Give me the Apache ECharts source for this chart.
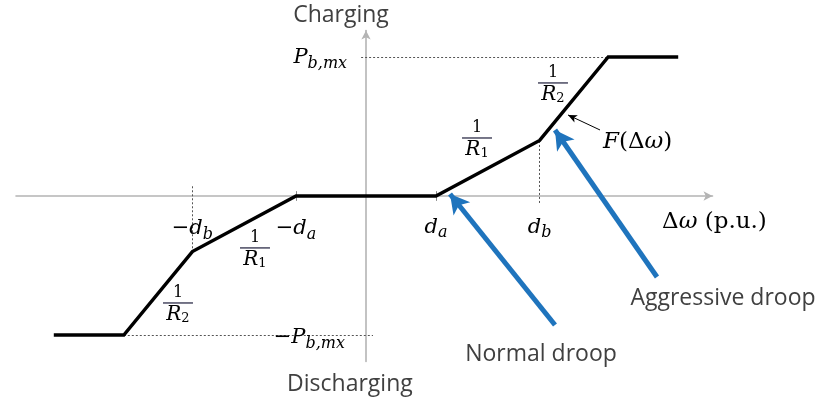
<!DOCTYPE html>
<html>
<head>
<meta charset="utf-8">
<script src="https://cdn.jsdelivr.net/npm/echarts@6/dist/echarts.min.js"></script>
<style>
  html, body { margin: 0; padding: 0; background: #ffffff; }
  #chart { width: 833px; height: 399px; }
</style>
</head>
<body>
<div id="chart"></div>
<script>
// Piecewise-linear battery droop characteristic F(Δω)
// Frequency deviation at each breakpoint, in units of d_a
const deltaOmega = [-4.46, -3.46, -2.48, -1, 1, 2.48, 3.46, 4.46];
// Battery power at each breakpoint, in units of P_b,mx
const batteryPower = [-1, -1, -0.4, 0, 0, 0.4, 1, 1];

// Axis mark labels (rich-text markup)
const xTickLabels = ['{m|−d}{s|b}', '{m|−d}{s|a}', '{m|d}{s|a}', '{m|d}{s|b}'];
const yTickLabels = ['{m|P}{s|b,mx}', '{m|−P}{s|b,mx}'];
const slopeLabels = ['1/R1', '1/R2'];
const quadrantTitles = ['Charging', 'Discharging'];
const droopNames = ['Normal droop', 'Aggressive droop'];

const dA = deltaOmega[4], dB = deltaOmega[5], dSat = deltaOmega[6];
const pKnee = batteryPower[5], pMax = batteryPower[6];

const MATH = '#1c1c3a';
const BLUE = '#1f74bd';
const AXIS = '#b4b4b4';
const MATH_FONT = 'DejaVu Serif';

const chart = echarts.init(document.getElementById('chart'), null, { renderer: 'canvas' });

const curve = deltaOmega.map((x, i) => [x, batteryPower[i]]);

// one markLine segment; optional arrowhead at the end point
function seg(a, b, lineStyle, arrow) {
  const from = { coord: a, symbol: 'none' };
  const to = { coord: b, symbol: arrow ? 'arrow' : 'none' };
  if (arrow) to.symbolSize = arrow;
  if (lineStyle) from.lineStyle = lineStyle;
  return [from, to];
}

const dotted = { type: [2, 2], color: '#555', width: 1 };
const tick = { type: 'solid', color: '#888', width: 1 };
const blueArrow = { type: 'solid', color: BLUE, width: 5 };
const pointer = { type: 'solid', color: '#000', width: 1 };

chart.setOption({
  animation: false,
  backgroundColor: '#ffffff',
  grid: { left: 16, top: 30.6, width: 696.5, height: 330.8, containLabel: false },
  xAxis: {
    type: 'value', min: -5, max: 4.95,
    splitLine: { show: false }, axisTick: { show: false }, axisLabel: { show: false },
    axisLine: { onZero: true, symbol: ['none', 'arrow'], symbolSize: [7, 9],
      lineStyle: { color: AXIS, width: 1.6 } }
  },
  yAxis: {
    type: 'value', min: -1.19, max: 1.19,
    splitLine: { show: false }, axisTick: { show: false }, axisLabel: { show: false },
    axisLine: { onZero: true, symbol: ['none', 'arrow'], symbolSize: [7, 9],
      lineStyle: { color: AXIS, width: 1.6 } }
  },
  series: [
    {
      // guide lines and tick marks
      type: 'line', data: [], silent: true,
      markLine: {
        silent: true, symbol: 'none', label: { show: false },
        lineStyle: dotted,
        data: [
          seg([dB, -0.05], [dB, pKnee]),
          seg([-dB, 0.07], [-dB, -pKnee]),
          seg([-0.07, pMax], [dSat, pMax]),
          seg([-dSat, -pMax], [0.1, -pMax]),
          seg([dA, -0.035], [dA, 0.035], tick),
          seg([-dA, -0.035], [-dA, 0.035], tick)
        ]
      }
    },
    {
      name: 'F(Δω)',
      type: 'line', data: curve, symbol: 'none', z: 5,
      lineStyle: { color: '#000000', width: 3.4, join: 'miter' }
    },
    {
      // callout arrows
      type: 'line', data: [], silent: true, z: 6,
      markLine: {
        silent: true, symbol: 'none', label: { show: false },
        data: [
          seg([2.7, -0.928], [1.2, 0.014], blueArrow, [16, 19]),
          seg([4.157, -0.583], [2.7, 0.475], blueArrow, [16, 19]),
          seg([3.343, 0.475], [2.886, 0.583], pointer, [6, 9])
        ]
      }
    }
  ]
});

const rich = {
  m: { fontFamily: MATH_FONT, fontStyle: 'italic', fontSize: 21, color: MATH },
  s: { fontFamily: MATH_FONT, fontStyle: 'italic', fontSize: 16, color: MATH, padding: [12, 0, 0, 0] },
  M: { fontFamily: MATH_FONT, fontStyle: 'italic', fontSize: 23, color: MATH },
  U: { fontFamily: MATH_FONT, fontSize: 23, color: MATH },
  n: { fontFamily: MATH_FONT, fontSize: 16, color: MATH, lineHeight: 15 },
  bar: { width: 30, height: 1.2, backgroundColor: MATH, lineHeight: 5 },
  d: { fontFamily: MATH_FONT, fontStyle: 'italic', fontSize: 20, color: MATH, lineHeight: 19 },
  ds: { fontFamily: MATH_FONT, fontSize: 13, color: MATH, lineHeight: 19, padding: [8, 0, 0, 0] }
};

function fraction(lbl) {
  const parts = lbl.split('/');
  return '{n|' + parts[0] + '}\n{bar|}\n{d|' + parts[1][0] + '}{ds|' + parts[1].slice(1) + '}';
}

function px(x, y) { return chart.convertToPixel({ gridIndex: 0 }, [x, y]); }

function mathText(x, y, text, align) {
  const p = px(x, y);
  return { type: 'text', x: p[0], y: p[1], z: 10,
    style: { text: text, rich: rich, align: align || 'center', verticalAlign: 'middle' } };
}

function plainText(x, y, text) {
  const p = px(x, y);
  return { type: 'text', x: p[0], y: p[1], z: 10,
    style: { text: text, align: 'center', verticalAlign: 'middle',
      fontFamily: 'Open Sans', fontSize: 23, fill: '#404040' } };
}

const graphics = [
  mathText(-dB, -0.237, xTickLabels[0]),
  mathText(-dA, -0.237, xTickLabels[1]),
  mathText(dA, -0.225, xTickLabels[2]),
  mathText(dB, -0.225, xTickLabels[3]),
  mathText(-0.27, 0.993, yTickLabels[0], 'right'),
  mathText(-0.30, -1.02, yTickLabels[1], 'right'),
  mathText(-1.586, -0.388, fraction(slopeLabels[0])),
  mathText(-2.686, -0.784, fraction(slopeLabels[1])),
  mathText(1.586, 0.403, fraction(slopeLabels[0])),
  mathText(2.671, 0.799, fraction(slopeLabels[1])),
  mathText(3.386, 0.388, '{M|F}{U|(Δ}{M|ω}{U|)}', 'left'),
  mathText(4.229, -0.187, '{U|Δ}{M|ω}{U| (p.u.)}', 'left'),
  plainText(-0.357, 1.302, quadrantTitles[0]),
  plainText(-0.23, -1.353, quadrantTitles[1]),
  plainText(2.5, -1.137, droopNames[0]),
  plainText(5.1, -0.734, droopNames[1])
];

chart.setOption({ graphic: graphics });
</script>
</body>
</html>
